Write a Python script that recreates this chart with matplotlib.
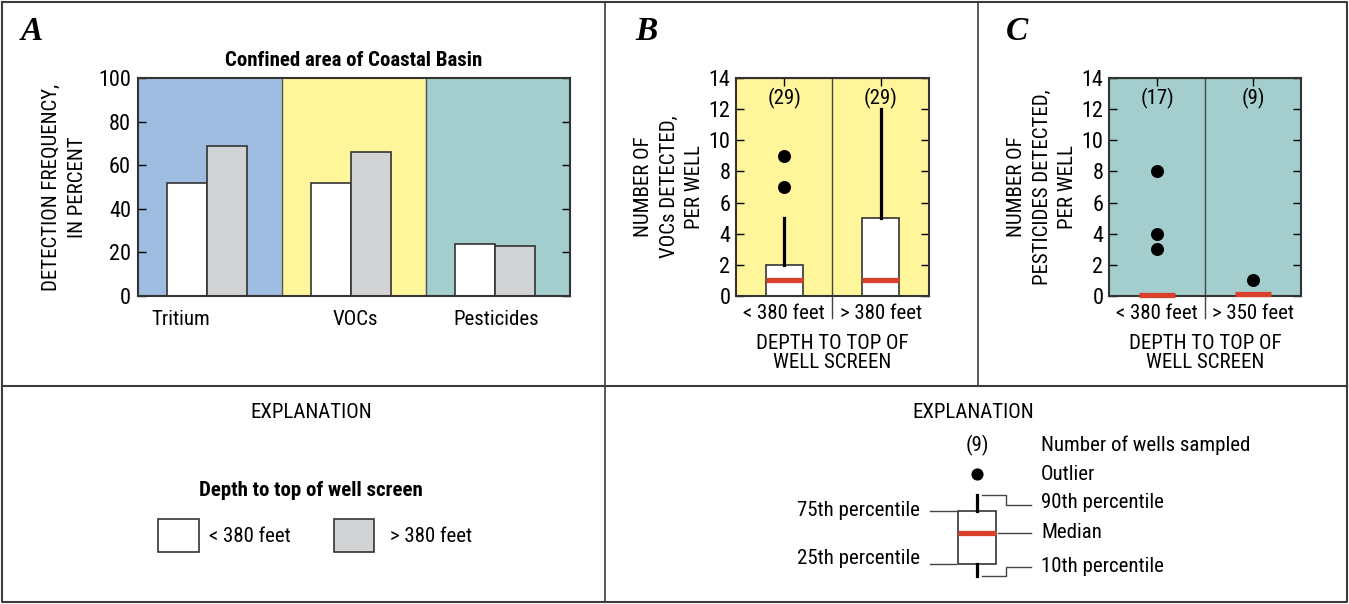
import matplotlib
matplotlib.use("Agg")
import matplotlib.pyplot as plt
from matplotlib.patches import Rectangle

plt.rcParams['font.family'] = ['Roboto Condensed', 'Liberation Sans Narrow', 'DejaVu Sans']

W, H = 1349, 604

# panel A data
groups = ["Tritium", "VOCs", "Pesticides"]
label_pos = [0.30, 1.51, 2.49]
shallow_pct = [52, 52, 24]   # < 380 feet
deep_pct = [69, 66, 23]      # > 380 feet
bg_colors = ["#9fbde0", "#fff59a", "#a3cecd"]

# panel B data (VOCs per well)
voc_labels = ["< 380 feet", "> 380 feet"]
voc_counts = ["(29)", "(29)"]
voc_q1 = [0, 0]
voc_med = [1.0, 1.05]
voc_q3 = [2, 5]
voc_p90 = [5, 12]
voc_out = [[7, 9], []]

# panel C data (pesticides per well)
pest_labels = ["< 380 feet", "> 350 feet"]
pest_counts = ["(17)", "(9)"]
pest_q1 = [0, 0]
pest_med = [0.08, 0.15]
pest_q3 = [0, 0]
pest_p90 = [0, 0]
pest_out = [[3, 4, 8], [1]]

RED = "#d9412b"
FRAME = "#3c3c3c"
GRAY = "#d1d3d4"
FS = 15


def rect(l, t, r, b):
    return [l / W, 1 - b / H, (r - l) / W, (b - t) / H]


fig = plt.figure(figsize=(W / 100, H / 100), dpi=100)

# overlay in pixel coords for frames / legends
ov = fig.add_axes([0, 0, 1, 1])
ov.set_xlim(0, W)
ov.set_ylim(H, 0)
ov.axis("off")
ov.plot([2, W - 2, W - 2, 2, 2], [2, 2, H - 2, H - 2, 2], color=FRAME, lw=1.5)
ov.plot([2, W - 2], [386, 386], color=FRAME, lw=1.5)
ov.plot([605, 605], [2, H - 2], color=FRAME, lw=1.2)
ov.plot([978, 978], [2, 386], color=FRAME, lw=1.2)

for x, s in [(21, "A"), (635, "B"), (1006, "C")]:
    ov.text(x, 31, s, fontsize=24, fontweight="bold", fontstyle="italic",
            family="Liberation Serif", va="center", ha="left")

# ---------- panel A ----------
axA = fig.add_axes(rect(138, 78, 570, 296))
for i, c in enumerate(bg_colors):
    axA.axvspan(i, i + 1, color=c, zorder=0)
for i in range(1, 3):
    axA.axvline(i, color="#555555", lw=1, zorder=1)
xs = [i + 0.48 for i in range(3)]
bw = 0.28
axA.bar([x - bw / 2 for x in xs], shallow_pct, bw, color="white", edgecolor="#333333", lw=1.2, zorder=2)
axA.bar([x + bw / 2 for x in xs], deep_pct, bw, color=GRAY, edgecolor="#333333", lw=1.2, zorder=2)
axA.set_xlim(0, 3)
axA.set_ylim(0, 100)
axA.set_yticks(range(0, 101, 20))
axA.set_xticks(label_pos)
axA.set_xticklabels(groups, fontsize=FS)
axA.tick_params(axis="x", length=0, pad=10)
axA.tick_params(axis="y", direction="in", right=True, length=6, pad=5, labelsize=FS + 1, width=1)
axA.set_ylabel("DETECTION FREQUENCY,\nIN PERCENT", fontsize=FS, labelpad=8, linespacing=1.5)
axA.set_title("Confined area of Coastal Basin", fontsize=FS, fontweight="bold", pad=9)
for sp in axA.spines.values():
    sp.set_linewidth(1.5)
    sp.set_color("#333333")


def box_panel(box, color, labels, counts, q1, med, q3, p90, outs, ylabel):
    ax = fig.add_axes(box)
    ax.set_facecolor(color)
    ax.set_xlim(0, 2)
    ax.set_ylim(0, 14)
    ax.axvline(1, ymin=-0.1, ymax=1, color="#444444", lw=1, clip_on=False)
    for i in range(2):
        x = i + 0.5
        if q3[i] > q1[i]:
            ax.add_patch(Rectangle((x - 0.19, q1[i]), 0.38, q3[i] - q1[i],
                                   facecolor="white", edgecolor="#333333", lw=1.2, zorder=2))
        if p90[i] > q3[i]:
            ax.plot([x, x], [q3[i], p90[i]], color="black", lw=2.3, zorder=2)
        ax.plot([x - 0.19, x + 0.19], [med[i], med[i]], color=RED, lw=3.8,
                solid_capstyle="butt", zorder=5, clip_on=False)
        if outs[i]:
            ax.scatter([x] * len(outs[i]), outs[i], s=70, color="black", zorder=4)
        ax.text(x, 12.7, counts[i], ha="center", va="center", fontsize=FS)
    ax.set_yticks(range(0, 15, 2))
    ax.set_xticks([0.5, 1.5])
    ax.set_xticklabels(labels, fontsize=FS)
    ax.tick_params(axis="x", length=0, pad=6)
    ax.tick_params(axis="y", direction="in", right=True, length=6, pad=4, labelsize=FS + 1, width=1)
    ax.set_xlabel("DEPTH TO TOP OF\nWELL SCREEN", fontsize=FS, labelpad=8, linespacing=1.0)
    ax.set_ylabel(ylabel, fontsize=FS, labelpad=3, linespacing=1.45)
    s = ax.secondary_xaxis("top")
    s.set_xticks([0.5, 1.5])
    s.tick_params(axis="x", direction="in", length=6, labeltop=False, width=1)
    for sp in ax.spines.values():
        sp.set_linewidth(1.5)
        sp.set_color("#333333")
    return ax


box_panel(rect(736, 78, 929, 296), "#fff59a", voc_labels, voc_counts,
          voc_q1, voc_med, voc_q3, voc_p90, voc_out,
          "NUMBER OF\nVOCs DETECTED,\nPER WELL")
box_panel(rect(1109, 78, 1301, 296), "#a3cecd", pest_labels, pest_counts,
          pest_q1, pest_med, pest_q3, pest_p90, pest_out,
          "NUMBER OF\nPESTICIDES DETECTED,\nPER WELL")

# ---------- legend A ----------
ov.text(311, 412, "EXPLANATION", ha="center", va="center", fontsize=FS)
ov.text(311, 491, "Depth to top of well screen", ha="center", va="center",
        fontsize=FS, fontweight="bold")
ov.add_patch(Rectangle((158, 519), 41, 33, facecolor="white", edgecolor="#333333", lw=1.2))
ov.text(209, 536, "< 380 feet", ha="left", va="center", fontsize=FS)
ov.add_patch(Rectangle((334, 519), 40, 33, facecolor=GRAY, edgecolor="#333333", lw=1.2))
ov.text(390, 536, "> 380 feet", ha="left", va="center", fontsize=FS)

# ---------- legend B/C ----------
ov.text(973, 412, "EXPLANATION", ha="center", va="center", fontsize=FS)
ov.text(977, 445, "(9)", ha="center", va="center", fontsize=FS)
ov.text(1041, 445, "Number of wells sampled", ha="left", va="center", fontsize=FS)
ov.scatter([977], [474], s=60, color="black")
ov.text(1041, 474, "Outlier", ha="left", va="center", fontsize=FS)
ov.add_patch(Rectangle((958, 511), 38, 53, facecolor="white", edgecolor="#333333", lw=1.2))
ov.plot([977, 977], [495, 511], color="black", lw=2.3)
ov.plot([977, 977], [564, 576], color="black", lw=2.3)
ov.plot([958, 996], [533, 533], color=RED, lw=3.8, solid_capstyle="butt")
lc = "#444444"
ov.plot([982, 1006, 1006, 1031], [495, 495, 505, 505], color=lc, lw=1)
ov.text(1041, 503, "90th percentile", ha="left", va="center", fontsize=FS)
ov.plot([998, 1031], [533, 533], color=lc, lw=1)
ov.text(1041, 533, "Median", ha="left", va="center", fontsize=FS)
ov.plot([982, 1006, 1006, 1031], [576, 576, 567, 567], color=lc, lw=1)
ov.text(1041, 566, "10th percentile", ha="left", va="center", fontsize=FS)
ov.plot([930, 956], [511, 511], color=lc, lw=1)
ov.text(920, 510, "75th percentile", ha="right", va="center", fontsize=FS)
ov.plot([930, 956], [564, 564], color=lc, lw=1)
ov.text(920, 558, "25th percentile", ha="right", va="center", fontsize=FS)

fig.savefig("out.png", dpi=100)
